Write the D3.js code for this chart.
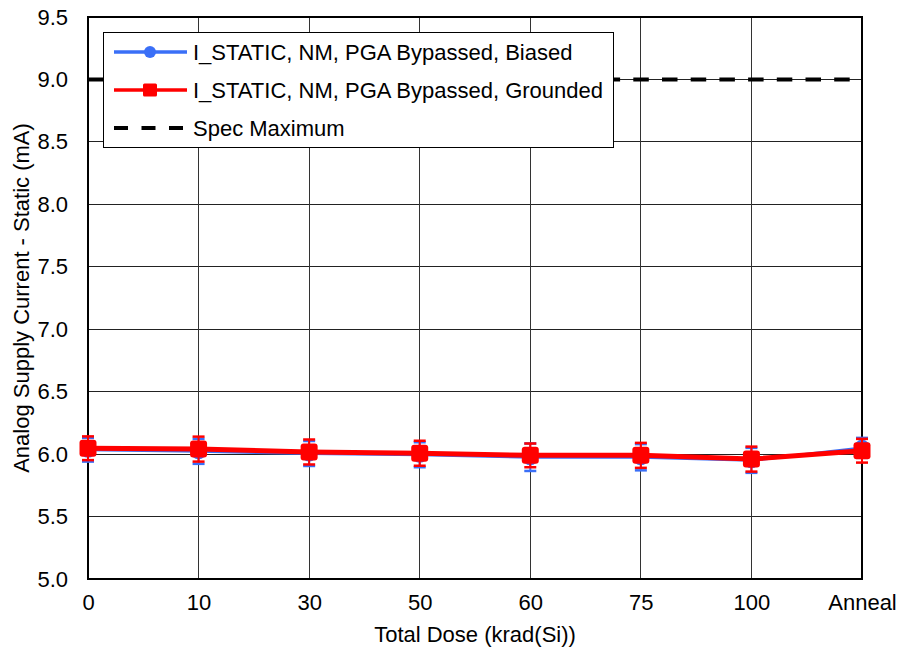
<!DOCTYPE html>
<html>
<head>
<meta charset="utf-8">
<script src="https://cdn.jsdelivr.net/npm/d3@7"></script>
<style>
  html, body { margin: 0; padding: 0; background: #fff; }
  svg { display: block; font-family: Arial, "Liberation Sans", sans-serif; }
</style>
</head>
<body>
<svg id="chart" width="899" height="651"></svg>
<script>
// Total dose steps on the x axis
const categories = ["0", "10", "30", "50", "60", "75", "100", "Anneal"];

// Mean static analog supply current (mA) per dose step
const biasedValues   = [6.035, 6.022, 6.005, 5.995, 5.975, 5.975, 5.950, 6.050];
const groundedValues = [6.047, 6.040, 6.017, 6.007, 5.990, 5.990, 5.960, 6.027];

// Half-width of the error bars (mA)
const biasedErr   = [0.095, 0.100, 0.100, 0.100, 0.110, 0.105, 0.100, 0.080];
const groundedErr = [0.095, 0.100, 0.100, 0.100, 0.095, 0.100, 0.100, 0.095];

const specMax = 9.0;
const yTicks = [5.0, 5.5, 6.0, 6.5, 7.0, 7.5, 8.0, 8.5, 9.0, 9.5];

const seriesNames = [
  "I_STATIC, NM, PGA Bypassed, Biased",
  "I_STATIC, NM, PGA Bypassed, Grounded",
  "Spec Maximum"
];

const BLUE = "#3a6ff7";
const RED = "#ff0000";
const FONT = 22;

const W = 899, H = 651;
const margin = { top: 17, right: 37, bottom: 72, left: 88 };
const iw = W - margin.left - margin.right;
const ih = H - margin.top - margin.bottom;

const svg = d3.select("#chart");
const g = svg.append("g").attr("transform", `translate(${margin.left},${margin.top})`);

const x = d3.scalePoint().domain(categories).range([0, iw]).padding(0);
const y = d3.scaleLinear().domain([5.0, 9.5]).range([ih, 0]);

// Gridlines
g.append("g").selectAll("line.h").data(yTicks).join("line")
  .attr("x1", 0).attr("x2", iw)
  .attr("y1", d => y(d)).attr("y2", d => y(d))
  .attr("stroke", "#222").attr("stroke-width", 1).attr("shape-rendering", "crispEdges");
g.append("g").selectAll("line.v").data(categories).join("line")
  .attr("x1", d => x(d)).attr("x2", d => x(d))
  .attr("y1", 0).attr("y2", ih)
  .attr("stroke", "#333").attr("stroke-width", 1).attr("shape-rendering", "crispEdges");

// Plot frame
g.append("rect").attr("x", 0).attr("y", 0).attr("width", iw).attr("height", ih)
  .attr("fill", "none").attr("stroke", "#000").attr("stroke-width", 1.2)
  .attr("shape-rendering", "crispEdges");

// Axes (labels only)
const yAxis = g.append("g").call(d3.axisLeft(y).tickValues(yTicks).tickFormat(d3.format(".1f")).tickSize(0).tickPadding(20));
yAxis.select(".domain").remove();
yAxis.selectAll("text").attr("font-size", FONT).attr("fill", "#000").attr("font-family", "Arial, 'Liberation Sans', sans-serif");

const xAxis = g.append("g").attr("transform", `translate(0,${ih})`)
  .call(d3.axisBottom(x).tickSize(0).tickPadding(15));
xAxis.select(".domain").remove();
xAxis.selectAll("text").attr("font-size", FONT).attr("fill", "#000").attr("font-family", "Arial, 'Liberation Sans', sans-serif");

// Axis titles
svg.append("text")
  .attr("x", margin.left + iw / 2).attr("y", 642)
  .attr("text-anchor", "middle").attr("font-size", FONT).attr("fill", "#000")
  .text("Total Dose (krad(Si))");
svg.append("text")
  .attr("transform", `translate(29,${margin.top + ih / 2}) rotate(-90)`)
  .attr("text-anchor", "middle").attr("font-size", FONT).attr("fill", "#000")
  .text("Analog Supply Current - Static (mA)");

// Spec maximum line
g.append("line")
  .attr("x1", 0).attr("x2", iw).attr("y1", y(specMax)).attr("y2", y(specMax))
  .attr("stroke", "#000").attr("stroke-width", 4).attr("stroke-dasharray", "15.5,13.2");

// Data series
function drawSeries(values, errs, color, lineWidth, marker) {
  const data = categories.map((c, i) => ({ c, v: values[i], e: errs[i] }));
  const eg = g.append("g");
  eg.selectAll("line.err").data(data).join("line")
    .attr("x1", d => x(d.c)).attr("x2", d => x(d.c))
    .attr("y1", d => y(d.v - d.e)).attr("y2", d => y(d.v + d.e))
    .attr("stroke", color).attr("stroke-width", 2);
  eg.selectAll("line.capT").data(data).join("line")
    .attr("x1", d => x(d.c) - 6).attr("x2", d => x(d.c) + 6)
    .attr("y1", d => y(d.v + d.e)).attr("y2", d => y(d.v + d.e))
    .attr("stroke", color).attr("stroke-width", 2.5);
  eg.selectAll("line.capB").data(data).join("line")
    .attr("x1", d => x(d.c) - 6).attr("x2", d => x(d.c) + 6)
    .attr("y1", d => y(d.v - d.e)).attr("y2", d => y(d.v - d.e))
    .attr("stroke", color).attr("stroke-width", 2.5);

  g.append("path").datum(data)
    .attr("d", d3.line().x(d => x(d.c)).y(d => y(d.v)))
    .attr("fill", "none").attr("stroke", color).attr("stroke-width", lineWidth)
    .attr("stroke-linejoin", "round");

  const mg = g.append("g");
  if (marker === "circle") {
    mg.selectAll("circle").data(data).join("circle")
      .attr("cx", d => x(d.c)).attr("cy", d => y(d.v)).attr("r", 8)
      .attr("fill", color);
  } else {
    const s = 17;
    mg.selectAll("rect").data(data).join("rect")
      .attr("x", d => x(d.c) - s / 2).attr("y", d => y(d.v) - s / 2)
      .attr("width", s).attr("height", s).attr("rx", 3)
      .attr("fill", color);
  }
}

drawSeries(biasedValues, biasedErr, BLUE, 3, "circle");
drawSeries(groundedValues, groundedErr, RED, 5, "square");

// Legend
const lg = svg.append("g");
lg.append("rect").attr("x", 103.5).attr("y", 32.5).attr("width", 510).attr("height", 115)
  .attr("fill", "#fff").attr("stroke", "#000").attr("stroke-width", 1);
const rows = [52, 90, 128];
const lx1 = 114, lx2 = 187, lmx = 150, ltx = 193;

lg.append("line").attr("x1", lx1).attr("x2", lx2).attr("y1", rows[0]).attr("y2", rows[0])
  .attr("stroke", BLUE).attr("stroke-width", 3.5);
lg.append("circle").attr("cx", lmx).attr("cy", rows[0]).attr("r", 6).attr("fill", BLUE);

lg.append("line").attr("x1", lx1).attr("x2", lx2).attr("y1", rows[1]).attr("y2", rows[1])
  .attr("stroke", RED).attr("stroke-width", 3.5);
lg.append("rect").attr("x", lmx - 7).attr("y", rows[1] - 6.5).attr("width", 14).attr("height", 13)
  .attr("rx", 1.5).attr("fill", RED);

lg.append("line").attr("x1", lx1).attr("x2", lx2).attr("y1", rows[2]).attr("y2", rows[2])
  .attr("stroke", "#000").attr("stroke-width", 4).attr("stroke-dasharray", "14,13.5");

lg.selectAll("text").data(seriesNames).join("text")
  .attr("x", ltx).attr("y", (d, i) => rows[i]).attr("dy", "0.35em")
  .attr("font-size", FONT).attr("fill", "#000")
  .text(d => d);
</script>
</body>
</html>
